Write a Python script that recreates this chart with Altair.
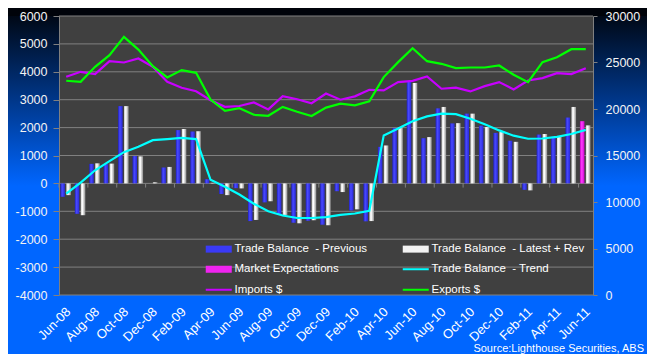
import altair as alt
import pandas as pd

# ---------------- data ----------------
months = ["Jun-08", "Jul-08", "Aug-08", "Sep-08", "Oct-08", "Nov-08", "Dec-08",
          "Jan-09", "Feb-09", "Mar-09", "Apr-09", "May-09", "Jun-09", "Jul-09",
          "Aug-09", "Sep-09", "Oct-09", "Nov-09", "Dec-09", "Jan-10", "Feb-10",
          "Mar-10", "Apr-10", "May-10", "Jun-10", "Jul-10", "Aug-10", "Sep-10",
          "Oct-10", "Nov-10", "Dec-10", "Jan-11", "Feb-11", "Mar-11", "Apr-11",
          "May-11", "Jun-11"]
prev_balance = [-480, -1090, 700, 690, 2770, 980, 0, 570, 1910, 1860, 150, -380,
                -170, -1350, -680, -1110, -1410, -1340, -1480, -280, -970, -1360,
                1310, 1980, 3640, 1620, 2690, 2150, 2500, 2070, 1810, 1530, -230,
                1750, 1670, 2360, None]
latest_balance = [-420, -1140, 720, 710, 2770, 970, 40, 590, 1950, 1870, 20, -420,
                  -180, -1310, -640, -1130, -1430, -1320, -1500, -310, -930, -1350,
                  1360, 2020, 3600, 1660, 2740, 2160, 2500, 2020, 1840, 1490, -250,
                  1770, 1700, 2740, 2080]
market_expect = [None] * 36 + [2230]
trend_balance = [-370, 30, 470, 800, 1120, 1310, 1550, 1590, 1630, 1590, 130, -120,
                 -400, -730, -1000, -1150, -1240, -1240, -1210, -1130, -1080, -980,
                 1720, 1970, 2230, 2400, 2500, 2480, 2320, 2120, 1900, 1710, 1600,
                 1610, 1670, 1770, 1920]
imports_usd = [23460, 24000, 23750, 25140, 25000, 25430, 24540, 22930, 22290, 21910,
               20950, 20230, 20320, 20710, 19960, 21390, 21050, 20620, 21660, 21000,
               21360, 22070, 22000, 22890, 23020, 23500, 22180, 22300, 21890, 22460,
               22890, 22110, 23070, 23320, 23860, 23750, 24390]
exports_usd = [23040, 22930, 24540, 25790, 27750, 26390, 24610, 23390, 24180, 23890,
               21020, 19800, 20090, 19380, 19270, 20230, 19700, 19250, 20150, 20570,
               20390, 20820, 23430, 25040, 26540, 25140, 24860, 24390, 24460, 24460,
               24680, 23680, 22890, 25040, 25570, 26430, 26430]

NB = "\u00a0"
# legend fills column by column: first column, then second column
series_names = ["Trade Balance" + NB + NB + "- Previous",
                "Market Expectations",
                "Imports $",
                "Trade Balance" + NB + NB + "- Latest + Rev",
                "Trade Balance" + NB + NB + "- Trend",
                "Exports $"]
series_colors = ["#3A3AF6", "#F024F0", "#C800FF", "#F2F2F2", "#00FFFF", "#00FF00"]
BAR_SYM = "M-1.2,-0.7H4V0.7H-1.2Z"
LINE_SYM = "M-1.2,-0.2H4V0.2H-1.2Z"
series_shapes = [BAR_SYM, BAR_SYM, LINE_SYM, BAR_SYM, LINE_SYM, LINE_SYM]

left_ticks = list(range(-4000, 6001, 1000))
right_ticks = list(range(0, 30001, 5000))
label_months = months[::2]
source_text = "Source:Lighthouse Securities, ABS"

df = pd.DataFrame({
    "month": months,
    "prev": prev_balance,
    "latest": latest_balance,
    "market": market_expect,
    "trend": trend_balance,
    "imports": imports_usd,
    "exports": exports_usd,
})
tick_df = pd.DataFrame({"month": label_months})
grid_df = pd.DataFrame({"v": left_ticks})
legend_df = pd.DataFrame({"series": series_names})
one_df = pd.DataFrame({"t": [source_text]})

# ---------------- style ----------------
W, H = 534, 279
FONT = "Liberation Sans"
GRID = "#808080"
BLUE_BG = "#0066FF"
PLOT_BG = "#404040"


def hgrad(c0, c1, c2):
    return alt.LinearGradient(
        gradient="linear", x1=0, x2=1, y1=0, y2=0,
        stops=[alt.GradientStop(color=c0, offset=0),
               alt.GradientStop(color=c1, offset=0.4),
               alt.GradientStop(color=c2, offset=1)])


def vgrad(c0, c1):
    return alt.LinearGradient(
        gradient="linear", x1=0, x2=0, y1=0, y2=1,
        stops=[alt.GradientStop(color=c0, offset=0),
               alt.GradientStop(color=c1, offset=1)])


x_scale = alt.Scale(domain=months, paddingInner=0, paddingOuter=0)
x_axis = alt.Axis(values=label_months, labelAngle=-45, ticks=False,
                  domain=False, grid=False, labelColor="#FFFFFF",
                  labelFontSize=13, labelFont=FONT, labelPadding=10,
                  labelOffset=-2, title=None)


def xenc(**kw):
    return alt.X("month:N", scale=x_scale, sort=months, title=None, axis=x_axis, **kw)


y_scale_left = alt.Scale(domain=[-4000, 6000], nice=False)
y_scale_right = alt.Scale(domain=[0, 30000], nice=False)
left_axis = alt.Axis(orient="left", values=left_ticks, grid=False,
                     domainColor=GRID, tickColor=GRID, tickSize=6, labelPadding=6,
                     labelColor="#F4F4F4", labelFontSize=12.5, labelFont=FONT,
                     labelExpr="'' + datum.value", title=None, zindex=1)
right_axis = alt.Axis(orient="right", values=right_ticks, grid=False,
                      domainColor=GRID, tickColor=GRID, tickSize=4, labelPadding=8,
                      labelColor="#F4F4F4", labelFontSize=12.5, labelFont=FONT,
                      labelExpr="'' + datum.value", title=None, zindex=1)

base = alt.Chart(df)

# background: gradient strips around the plot area and dark plot panel
strip_left = alt.Chart(one_df).mark_rect(color=vgrad("#00040B", BLUE_BG)).encode(
    x=alt.value(-51), x2=alt.value(0), y=alt.value(-8), y2=alt.value(170))
strip_right = alt.Chart(one_df).mark_rect(color=vgrad("#00040B", BLUE_BG)).encode(
    x=alt.value(W), x2=alt.value(W + 54), y=alt.value(-8), y2=alt.value(170))
strip_top = alt.Chart(one_df).mark_rect(color="#00030A").encode(
    x=alt.value(-51), x2=alt.value(W + 54), y=alt.value(-8), y2=alt.value(0))
panel = alt.Chart(one_df).mark_rect(color=PLOT_BG).encode(
    x=alt.value(0), x2=alt.value(W), y=alt.value(0), y2=alt.value(H))

grid_rules = alt.Chart(grid_df).mark_rule(color=GRID, strokeWidth=1).encode(
    y=alt.Y("v:Q", scale=y_scale_left, axis=None))

bars_prev = base.mark_bar(width=4.5, xOffset=-3.6,
                          color=hgrad("#2020C4", "#4A4AFF", "#2828D8")).encode(
    x=xenc(),
    y=alt.Y("prev:Q", scale=y_scale_left, axis=left_axis),
    y2=alt.datum(0))
bars_latest = base.mark_bar(width=4.6, xOffset=2.4,
                            color=hgrad("#D4D4D4", "#FFFFFF", "#8E8E8E")).encode(
    x=xenc(), y=alt.Y("latest:Q", scale=y_scale_left, axis=None), y2=alt.datum(0))
bars_market = base.mark_bar(width=4.5, xOffset=-3.6,
                            color=hgrad("#C000C0", "#FF40FF", "#D000D0")).encode(
    x=xenc(), y=alt.Y("market:Q", scale=y_scale_left, axis=None), y2=alt.datum(0))

zero_ticks = alt.Chart(tick_df).mark_rule(color=GRID, strokeWidth=1).encode(
    x=xenc(bandPosition=0),
    y=alt.Y("datum_zero:Q", scale=y_scale_left, axis=None),
    y2="datum_low:Q").transform_calculate(datum_zero="0", datum_low="-150")

trend_line = base.mark_line(color="#00FFFF", strokeWidth=2.2).encode(
    x=xenc(), y=alt.Y("trend:Q", scale=y_scale_left, axis=None))

imports_line = base.mark_line(color="#C800FF", strokeWidth=2.2).encode(
    x=xenc(), y=alt.Y("imports:Q", scale=y_scale_right, axis=right_axis))
exports_line = base.mark_line(color="#00FF00", strokeWidth=2.2).encode(
    x=xenc(), y=alt.Y("exports:Q", scale=y_scale_right, axis=None))

legend_spec = alt.Legend(orient="none", legendX=147, legendY=227, columns=2,
                         columnPadding=34, rowPadding=7.5, symbolSize=100,
                         symbolStrokeWidth=0, labelOffset=17, labelColor="#FFFFFF",
                         labelFont=FONT, labelFontSize=11.5, title=None, padding=0)
legend_layer = alt.Chart(legend_df).transform_filter("false").mark_point(
    filled=True, opacity=1, size=100).encode(
    color=alt.Color("series:N", scale=alt.Scale(domain=series_names, range=series_colors),
                    legend=legend_spec),
    shape=alt.Shape("series:N", scale=alt.Scale(domain=series_names, range=series_shapes),
                    legend=legend_spec))

source_layer = alt.Chart(one_df).mark_text(
    align="right", baseline="alphabetic", color="#FFFFFF", font=FONT, fontSize=11
).encode(x=alt.value(W + 51), y=alt.value(H + 57), text="t:N")

chart = alt.layer(
    strip_left, strip_right, strip_top, panel, grid_rules,
    bars_prev, bars_latest, bars_market, zero_ticks, trend_line,
    imports_line, exports_line, legend_layer, source_layer
).resolve_scale(y="independent").properties(
    width=W, height=H,
    background=BLUE_BG,
    padding={"left": 51, "top": 8, "right": 54, "bottom": 59},
    autosize=alt.AutoSizeParams(type="none"),
).configure_view(fill=PLOT_BG, stroke="transparent")

chart.save("out.html", embed_options={"renderer": "svg", "actions": False})
